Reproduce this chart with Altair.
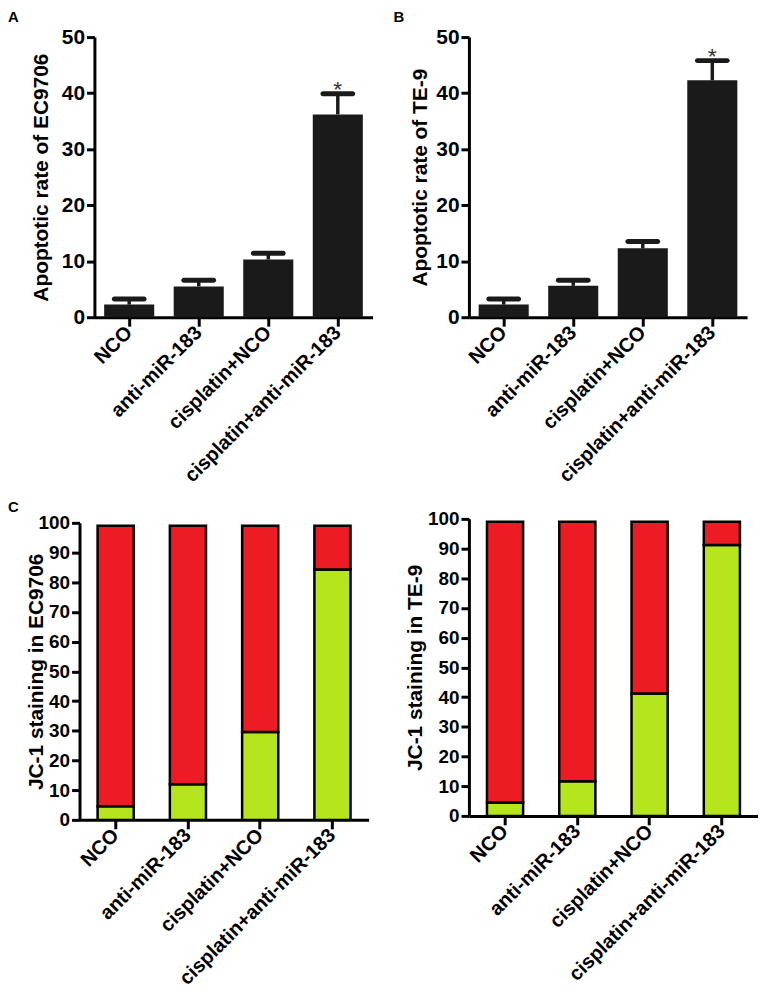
import altair as alt
import pandas as pd

groups = ["NCO", "anti-miR-183", "cisplatin+NCO", "cisplatin+anti-miR-183"]
ec_mean = [2.25, 5.5, 10.3, 36.2]
ec_sem = [1.0, 1.1, 1.1, 3.7]
te_mean = [2.25, 5.6, 12.3, 42.3]
te_sem = [1.0, 1.0, 1.2, 3.5]
sig = ["", "", "", "*"]
jc_ec_green = [4.6, 12.0, 29.6, 84.3]
jc_te_green = [4.5, 11.7, 41.2, 91.2]
jc_total = [99, 99, 99, 99]

FONT = "Liberation Sans"
INK = "#1a1a1a"
GREEN = "#b5e61d"
RED = "#ed1c24"


def x_enc(padI, padO, with_axis, rng=None):
    if with_axis:
        ax = alt.Axis(title=None, labelAngle=-45, labelAlign="right", labelBaseline="middle",
                      labelFontSize=20, labelFontWeight="bold", labelPadding=3, tickSize=9,
                      tickWidth=3, domainWidth=3, labelColor="black", tickColor="black",
                      domainColor="black", labelFont=FONT, labelLimit=400, labelOverlap=False)
        sc = alt.Scale(paddingInner=padI, paddingOuter=padO)
        if rng is not None:
            sc = alt.Scale(paddingInner=padI, paddingOuter=padO, range=rng)
        return alt.X("group:N", sort=groups, scale=sc, axis=ax)
    return alt.X("group:N", sort=groups)


def letter_layer(letter, lx, ly, opacity=1.0):
    return alt.Chart(pd.DataFrame({"t": [letter]})).mark_text(
        align="left", baseline="alphabetic", fontSize=15, fontWeight="bold", font=FONT,
        color="black", opacity=opacity
    ).encode(x=alt.value(lx), y=alt.value(ly), text="t:N")


def anchor_layer(ax, ay):
    return alt.Chart(pd.DataFrame({"a": [0]})).mark_rect(opacity=0).encode(
        x=alt.value(ax), x2=alt.value(ax + 1), y=alt.value(ay), y2=alt.value(ay + 1))


def apop_panel(mean, sem, title, letter, lx, tpad, anchor=False):
    df = pd.DataFrame({"group": groups, "mean": mean, "sem": sem, "sig": sig})
    df["top"] = df["mean"] + df["sem"]
    base = alt.Chart(df)
    yax = alt.Axis(title=title, values=list(range(0, 51, 5)), labelFontSize=21, labelFontWeight="bold",
                   titleFontSize=21, titleFontWeight="bold", tickSize=8, tickWidth=3, domainWidth=3,
                   labelPadding=2, titlePadding=tpad, grid=False, labelColor="black", titleColor="black",
                   tickColor="black", domainColor="black", labelFont=FONT, titleFont=FONT,
                   labelOverlap=False)
    bars = base.mark_bar(color=INK, opacity=1).encode(
        x=x_enc(0.28, 0.14, True),
        y=alt.Y("mean:Q", scale=alt.Scale(domain=[0, 50], nice=False), axis=yax),
    )
    err = base.mark_rule(color=INK, strokeWidth=3.5, opacity=1).encode(
        x=x_enc(0, 0, False), y="mean:Q", y2="top:Q")
    cap = base.mark_tick(color=INK, size=35, thickness=5, cornerRadius=2.5, opacity=1).encode(
        x=x_enc(0, 0, False), y="top:Q")
    star = base.mark_text(fontSize=23, dy=3, baseline="alphabetic", color="#333333", font=FONT).encode(
        x=x_enc(0, 0, False), y="top:Q", text="sig:N")
    layers = [bars, err, cap, star, letter_layer(letter, lx, -15)]
    if anchor:
        layers.append(anchor_layer(-87, -40))
    return alt.layer(*layers).properties(width=280, height=282)


def jc_panel(green, title, letter, lx, tpad, xoff, h, yrange):
    rows = []
    for g, v, t in zip(groups, green, jc_total):
        rows.append({"group": g, "seg": "green", "y0": 0, "y1": v})
        rows.append({"group": g, "seg": "red", "y0": v, "y1": t})
    df = pd.DataFrame(rows)
    yax = alt.Axis(title=title, values=list(range(0, 101, 10)), labelFontSize=19, labelFontWeight="bold",
                   titleFontSize=21, titleFontWeight="bold", tickSize=8, tickWidth=3, domainWidth=3,
                   labelPadding=2, titlePadding=tpad, grid=False, labelColor="black", titleColor="black",
                   tickColor="black", domainColor="black", labelFont=FONT, titleFont=FONT,
                   labelOverlap=False, offset=xoff)
    bars = alt.Chart(df).mark_bar(stroke="black", strokeWidth=2.5, opacity=1).encode(
        x=x_enc(0.5, 0.25, True, [-xoff, 291 - xoff]),
        y=alt.Y("y0:Q", scale=alt.Scale(domain=[0, 100], nice=False, range=yrange), axis=yax),
        y2="y1:Q",
        color=alt.Color("seg:N", scale=alt.Scale(domain=["green", "red"], range=[GREEN, RED]), legend=None),
    )
    layers = [bars]
    if letter:
        layers.append(letter_layer(letter, lx, -11))
    return alt.layer(*layers).properties(width=291 - xoff, height=h)


pA = apop_panel(ec_mean, ec_sem, "Apoptotic rate of EC9706", "A", -87, 10, anchor=True)
pB = apop_panel(te_mean, te_sem, "Apoptotic rate of TE-9", "B", -76, 5)
pC1 = jc_panel(jc_ec_green, "JC-1 staining in EC9706", "C", -87, -8, 15, 299, [299, 0])
pC2 = jc_panel(jc_te_green, "JC-1 staining in TE-9", "", -70, 2, 0, 295, [295, -4])

chart = alt.concat(pA, pB, pC1, pC2, columns=2, bounds="flush", align="each",
                   spacing={"row": 207, "column": 97}).properties(
    padding={"top": -14, "left": 0, "right": 0, "bottom": 0}
).configure_view(stroke=None)

chart.save("out.html", embed_options={"renderer": "svg", "actions": False})
